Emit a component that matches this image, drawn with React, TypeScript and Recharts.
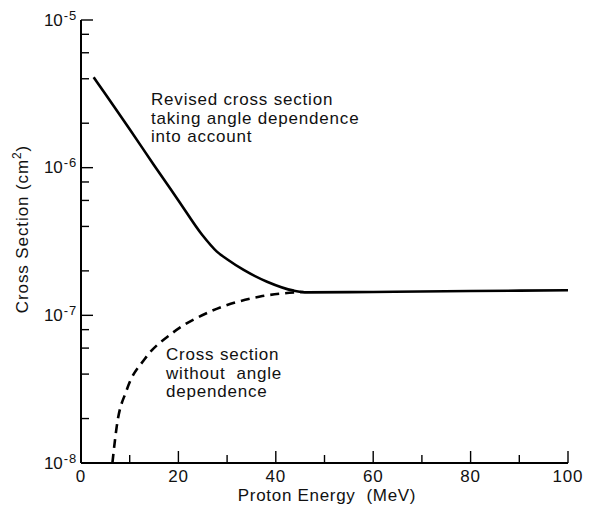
import React from 'react';
import { LineChart, Line, XAxis, YAxis } from 'recharts';

// revised cross section (solid)
const revisedEnergy = [2.6, 5, 10, 15, 20, 24.9, 27.9, 30, 33.4, 38.2, 43.7, 46.4, 60, 80, 100];
const revisedSigma = [4.1e-6, 3.15e-6, 1.82e-6, 1.04e-6, 6.0e-7, 3.5e-7, 2.7e-7, 2.4e-7, 2.03e-7, 1.69e-7, 1.47e-7, 1.43e-7, 1.44e-7, 1.46e-7, 1.48e-7];

// cross section without angle dependence (dashed)
const plainEnergy = [6.45, 7.34, 9.4, 13.2, 18.7, 26.5, 36.8, 45.7];
const plainSigma = [1.0e-8, 1.77e-8, 3.13e-8, 5.12e-8, 7.56e-8, 1.06e-7, 1.34e-7, 1.44e-7];

const xMajorTicks = [0, 20, 40, 60, 80, 100];
const xMinorTicks = [10, 30, 50, 70, 90];
const yMajorTicks = [1e-8, 1e-7, 1e-6, 1e-5];
const yMajorExponents = ['-8', '-7', '-6', '-5'];
const yMinorTicks = [2e-8, 4e-8, 6e-8, 8e-8, 2e-7, 4e-7, 6e-7, 8e-7, 2e-6, 4e-6, 6e-6, 8e-6];

const FONT = '"Liberation Sans", Arial, Helvetica, sans-serif';

const revisedData = revisedEnergy.map((e, i) => ({ energy: e, sigma: revisedSigma[i] }));
const plainData = plainEnergy.map((e, i) => ({ energy: e, sigma: plainSigma[i] }));
const xTicks = [...xMajorTicks, ...xMinorTicks].sort((a, b) => a - b);
const yTicks = [...yMajorTicks, ...yMinorTicks].sort((a, b) => a - b);

const BottomTick = (props: any) => {
  const { x, y, payload } = props;
  const major = xMajorTicks.includes(payload.value);
  return (
    <g>
      <line x1={x} y1={y} x2={x} y2={y - (major ? 12 : 8)} stroke="#000" strokeWidth={1.4} />
      {major && (
        <text x={x} y={y + 19} textAnchor="middle" fontSize={17} letterSpacing={0.8} fontFamily={FONT} fill="#111">
          {payload.value}
        </text>
      )}
    </g>
  );
};

const TopTick = (props: any) => {
  const { x, y, payload } = props;
  const major = xMajorTicks.includes(payload.value);
  return <line x1={x} y1={y} x2={x} y2={y + (major ? 12 : 8)} stroke="#000" strokeWidth={1.4} />;
};

const LeftTick = (props: any) => {
  const { x, y, payload } = props;
  const idx = yMajorTicks.indexOf(payload.value);
  const major = idx >= 0;
  return (
    <g>
      <line x1={x} y1={y} x2={x + (major ? 12 : 8)} y2={y} stroke="#000" strokeWidth={1.4} />
      {major && (
        <text x={x - 4} y={y + 5.5} textAnchor="end" fontSize={17} fontFamily={FONT} fill="#111">
          <tspan>10</tspan>
          <tspan dx={1} dy={-6} fontSize={13} letterSpacing={0.8}>{yMajorExponents[idx]}</tspan>
        </text>
      )}
    </g>
  );
};

const RightTick = (props: any) => {
  const { x, y } = props;
  return <line x1={x} y1={y} x2={x - 12} y2={y} stroke="#000" strokeWidth={1.4} />;
};

const noteStyle: React.CSSProperties = {
  position: 'absolute',
  fontFamily: FONT,
  fontSize: 17,
  lineHeight: '18.5px',
  letterSpacing: 0.8,
  color: '#111',
  whiteSpace: 'pre',
};

export default function App() {
  return (
    <div style={{ position: 'absolute', left: 0, top: 0, width: 591, height: 506, background: '#fff', fontFamily: FONT }}>
      <LineChart width={591} height={506} margin={{ top: 20, right: 23, left: 0, bottom: 0 }}>
        <XAxis
          xAxisId="bottom"
          type="number"
          dataKey="energy"
          domain={[0, 100]}
          ticks={xTicks}
          interval={0}
          allowDataOverflow
          height={43}
          tickSize={0}
          tickMargin={0}
          tickLine={false}
          axisLine={{ stroke: '#000', strokeWidth: 2 }}
          tick={<BottomTick />}
        />
        <XAxis
          xAxisId="top"
          orientation="top"
          type="number"
          domain={[0, 100]}
          ticks={xTicks}
          interval={0}
          allowDataOverflow
          height={0}
          tickSize={0}
          tickMargin={0}
          tickLine={false}
          axisLine={{ stroke: '#000', strokeWidth: 1.5 }}
          tick={<TopTick />}
        />
        <YAxis
          yAxisId="left"
          type="number"
          scale="log"
          domain={[1e-8, 1e-5]}
          ticks={yTicks}
          interval={0}
          allowDataOverflow
          width={81}
          tickSize={0}
          tickMargin={0}
          tickLine={false}
          axisLine={{ stroke: '#000', strokeWidth: 2 }}
          tick={<LeftTick />}
        />
        <YAxis
          yAxisId="right"
          orientation="right"
          type="number"
          scale="log"
          domain={[1e-8, 1e-5]}
          ticks={yMajorTicks}
          interval={0}
          allowDataOverflow
          width={0}
          tickSize={0}
          tickMargin={0}
          tickLine={false}
          axisLine={{ stroke: '#000', strokeWidth: 1.5 }}
          tick={<RightTick />}
        />
        <Line
          xAxisId="bottom"
          yAxisId="left"
          data={plainData}
          dataKey="sigma"
          type="monotone"
          stroke="#000"
          strokeWidth={2.6}
          strokeDasharray="9 6"
          dot={false}
          activeDot={false}
          isAnimationActive={false}
        />
        <Line
          xAxisId="bottom"
          yAxisId="left"
          data={revisedData}
          dataKey="sigma"
          type="monotone"
          stroke="#000"
          strokeWidth={2.6}
          dot={false}
          activeDot={false}
          isAnimationActive={false}
        />
      </LineChart>

      <div style={{ ...noteStyle, left: 151, top: 91 }}>
        {'Revised cross section\ntaking angle dependence\ninto account'}
      </div>
      <div style={{ ...noteStyle, left: 166, top: 346 }}>
        {'Cross section\nwithout  angle\ndependence'}
      </div>

      <div
        style={{
          position: 'absolute',
          left: 327,
          top: 495,
          transform: 'translate(-50%, -50%)',
          fontSize: 17,
          lineHeight: '17px',
          letterSpacing: 0.7,
          whiteSpace: 'pre',
          color: '#111',
        }}
      >
        {'Proton Energy  (MeV)'}
      </div>
      <div
        style={{
          position: 'absolute',
          left: 22,
          top: 229,
          transform: 'translate(-50%, -50%) rotate(-90deg)',
          fontSize: 17,
          lineHeight: '17px',
          letterSpacing: 0.9,
          whiteSpace: 'nowrap',
          color: '#111',
        }}
      >
        Cross Section (cm
        <span style={{ fontSize: 12, verticalAlign: 'super', lineHeight: 0 }}>2</span>)
      </div>
    </div>
  );
}
